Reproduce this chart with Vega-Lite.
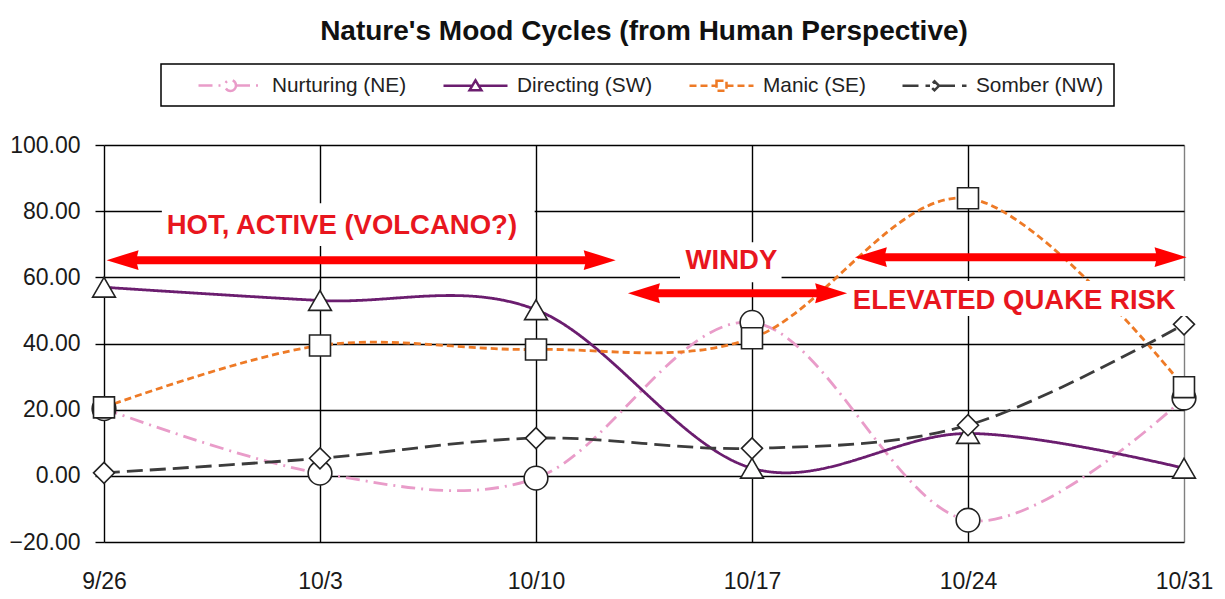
{
  "$schema": "https://vega.github.io/schema/vega-lite/v6.json",
  "width": 1080,
  "height": 397,
  "autosize": {"type": "none"},
  "padding": {"left": 104, "top": 145, "right": 41, "bottom": 57},
  "background": "white",
  "title": {
    "text": "Nature's Mood Cycles (from Human Perspective)",
    "font": "Liberation Sans",
    "fontSize": 28,
    "fontWeight": "bold",
    "color": "#111111",
    "anchor": "middle",
    "offset": 17
  },
  "datasets": {
    "series": [
      {"date": "2010-09-26", "series": "Nurturing (NE)", "value": 20.3},
      {"date": "2010-10-03", "series": "Nurturing (NE)", "value": 0.8},
      {"date": "2010-10-10", "series": "Nurturing (NE)", "value": -0.7},
      {"date": "2010-10-17", "series": "Nurturing (NE)", "value": 46.4},
      {"date": "2010-10-24", "series": "Nurturing (NE)", "value": -13.4},
      {"date": "2010-10-31", "series": "Nurturing (NE)", "value": 23.5},
      {"date": "2010-09-26", "series": "Directing (SW)", "value": 57.0},
      {"date": "2010-10-03", "series": "Directing (SW)", "value": 53.0},
      {"date": "2010-10-10", "series": "Directing (SW)", "value": 50.2},
      {"date": "2010-10-17", "series": "Directing (SW)", "value": 2.3},
      {"date": "2010-10-24", "series": "Directing (SW)", "value": 12.8},
      {"date": "2010-10-31", "series": "Directing (SW)", "value": 2.3},
      {"date": "2010-09-26", "series": "Manic (SE)", "value": 20.7},
      {"date": "2010-10-03", "series": "Manic (SE)", "value": 39.4},
      {"date": "2010-10-10", "series": "Manic (SE)", "value": 38.2},
      {"date": "2010-10-17", "series": "Manic (SE)", "value": 41.6},
      {"date": "2010-10-24", "series": "Manic (SE)", "value": 83.9},
      {"date": "2010-10-31", "series": "Manic (SE)", "value": 26.8},
      {"date": "2010-09-26", "series": "Somber (NW)", "value": 0.9},
      {"date": "2010-10-03", "series": "Somber (NW)", "value": 5.3},
      {"date": "2010-10-10", "series": "Somber (NW)", "value": 11.4},
      {"date": "2010-10-17", "series": "Somber (NW)", "value": 8.3},
      {"date": "2010-10-24", "series": "Somber (NW)", "value": 15.3},
      {"date": "2010-10-31", "series": "Somber (NW)", "value": 45.8}
    ],
    "notes": [
      {"label": "HOT, ACTIVE (VOLCANO?)", "x": "2010-10-03T17:00:00Z", "y": 75.5, "x1": "2010-09-27T21:00:00Z", "x2": "2010-10-09T23:00:00Z", "y1": 69.5, "y2": 82.4},
      {"label": "WINDY", "x": "2010-10-16T08:00:00Z", "y": 64.9, "x1": "2010-10-14T16:00:00Z", "x2": "2010-10-17T23:00:00Z", "y1": 58.5, "y2": 70.6},
      {"label": "ELEVATED QUAKE RISK", "x": "2010-10-25T12:00:00Z", "y": 52.8, "x1": "2010-10-20T00:00:00Z", "x2": "2010-10-31T05:00:00Z", "y1": 48.3, "y2": 58.9}
    ],
    "arrows": [
      {"start": "2010-09-26T02:00:00Z", "end": "2010-10-12T14:00:00Z", "level": 65.2},
      {"start": "2010-10-12T23:30:00Z", "end": "2010-10-20T02:00:00Z", "level": 55.2},
      {"start": "2010-10-20T08:00:00Z", "end": "2010-10-31T02:00:00Z", "level": 66.1}
    ]
  },
  "layer": [
    {
      "data": {"name": "series"},
      "mark": {"type": "line", "interpolate": "cardinal", "strokeWidth": 2.8},
      "encoding": {
        "x": {
          "field": "date", "type": "temporal", "title": null,
          "scale": {"type": "utc", "domain": [{"year": 2010, "month": 9, "date": 26, "utc": true}, {"year": 2010, "month": 10, "date": 31, "utc": true}]},
          "axis": {
            "values": [
              {"year": 2010, "month": 9, "date": 26, "utc": true},
              {"year": 2010, "month": 10, "date": 3, "utc": true},
              {"year": 2010, "month": 10, "date": 10, "utc": true},
              {"year": 2010, "month": 10, "date": 17, "utc": true},
              {"year": 2010, "month": 10, "date": 24, "utc": true},
              {"year": 2010, "month": 10, "date": 31, "utc": true}
            ],
            "format": "%-m/%-d",
            "gridColor": {"condition": {"test": "datum.value >= 1288483200000", "value": "#808080"}, "value": "#000000"}
          }
        },
        "y": {
          "field": "value", "type": "quantitative", "title": null,
          "scale": {"domain": [-20, 100], "nice": false, "zero": false},
          "axis": {"values": [-20, 0, 20, 40, 60, 80, 100], "format": ".2f"}
        },
        "color": {
          "field": "series", "type": "nominal", "title": " ",
          "scale": {"domain": ["Nurturing (NE)", "Directing (SW)", "Manic (SE)", "Somber (NW)"], "range": ["#e99cc9", "#6b1d6f", "#ee7a26", "#3c3c3c"]},
          "legend": {"labelExpr": "datum.label === 'Somber (NW)' ? datum.label + '\u2003' : datum.label"}
        },
        "strokeDash": {
          "field": "series", "type": "nominal", "title": " ",
          "scale": {"domain": ["Nurturing (NE)", "Directing (SW)", "Manic (SE)", "Somber (NW)"], "range": [[14, 6, 2, 6], [1, 0], [7, 4], [16, 7]]},
          "legend": {"labelExpr": "datum.label === 'Somber (NW)' ? datum.label + '\u2003' : datum.label"}
        }
      }
    },
    {
      "data": {"name": "series"},
      "transform": [{"filter": "datum.series === 'Nurturing (NE)'"}],
      "mark": {"type": "point", "shape": "circle", "size": 560, "filled": true, "fill": "white", "stroke": "#222222", "strokeWidth": 1.6, "opacity": 1},
      "encoding": {"x": {"field": "date", "type": "temporal"}, "y": {"field": "value", "type": "quantitative"}}
    },
    {
      "data": {"name": "series"},
      "transform": [{"filter": "datum.series === 'Directing (SW)'"}],
      "mark": {"type": "point", "shape": "triangle-up", "size": 520, "filled": true, "fill": "white", "stroke": "#222222", "strokeWidth": 1.6, "opacity": 1},
      "encoding": {"x": {"field": "date", "type": "temporal"}, "y": {"field": "value", "type": "quantitative"}}
    },
    {
      "data": {"name": "series"},
      "transform": [{"filter": "datum.series === 'Manic (SE)'"}],
      "mark": {"type": "point", "shape": "square", "size": 440, "filled": true, "fill": "white", "stroke": "#222222", "strokeWidth": 1.6, "opacity": 1},
      "encoding": {"x": {"field": "date", "type": "temporal"}, "y": {"field": "value", "type": "quantitative"}}
    },
    {
      "data": {"name": "series"},
      "transform": [{"filter": "datum.series === 'Somber (NW)'"}],
      "mark": {"type": "point", "shape": "diamond", "size": 440, "filled": true, "fill": "white", "stroke": "#222222", "strokeWidth": 1.6, "opacity": 1},
      "encoding": {"x": {"field": "date", "type": "temporal"}, "y": {"field": "value", "type": "quantitative"}}
    },
    {
      "data": {"name": "series"},
      "mark": {"type": "point", "filled": false, "opacity": 0, "strokeWidth": 2.5},
      "encoding": {
        "x": {"field": "date", "type": "temporal"},
        "y": {"field": "value", "type": "quantitative"},
        "color": {"field": "series", "type": "nominal", "title": " "},
        "strokeDash": {"field": "series", "type": "nominal", "title": " "},
        "shape": {
          "field": "series", "type": "nominal", "title": " ",
          "legend": {"labelExpr": "datum.label === 'Somber (NW)' ? datum.label + '\u2003' : datum.label"},
          "scale": {
            "domain": ["Nurturing (NE)", "Directing (SW)", "Manic (SE)", "Somber (NW)"],
            "range": [
              "M-3.2,0H-0.55M0.55,0H3.2M0.55,0A0.55,0.55,0,1,1,-0.55,0A0.55,0.55,0,1,1,0.55,0",
              "M-3.2,0H-0.35M0.35,0H3.2M0,-0.55L0.6,0.45L-0.6,0.45Z",
              "M-3.2,0H-0.5M0.5,0H3.2M-0.5,-0.5H0.5V0.5H-0.5Z",
              "M-3.2,0H-0.45M0.45,0H3.2M0,-0.45L0.45,0L0,0.45L-0.45,0Z"
            ]
          }
        }
      }
    },
    {
      "data": {"name": "notes"},
      "mark": {"type": "rect", "fill": "white", "stroke": null},
      "encoding": {
        "x": {"field": "x1", "type": "temporal"},
        "x2": {"field": "x2"},
        "y": {"field": "y1", "type": "quantitative"},
        "y2": {"field": "y2"}
      }
    },
    {
      "data": {"name": "notes"},
      "mark": {"type": "text", "font": "Liberation Sans", "fontSize": 27.5, "fontWeight": "bold", "color": "#e8161e", "align": "center", "baseline": "middle"},
      "encoding": {
        "x": {"field": "x", "type": "temporal"},
        "y": {"field": "y", "type": "quantitative"},
        "text": {"field": "label"}
      }
    },
    {
      "data": {"name": "arrows"},
      "mark": {"type": "rule", "color": "#ff0000", "strokeWidth": 8, "strokeCap": "butt", "xOffset": 20, "x2Offset": -20},
      "encoding": {
        "x": {"field": "start", "type": "temporal"},
        "x2": {"field": "end"},
        "y": {"field": "level", "type": "quantitative"}
      }
    },
    {
      "data": {"name": "arrows"},
      "mark": {"type": "point", "shape": "M0,0L2,-0.62L1.85,0L2,0.62Z", "size": 1024, "filled": true, "fill": "#ff0000", "strokeWidth": 0, "opacity": 1},
      "encoding": {
        "x": {"field": "start", "type": "temporal"},
        "y": {"field": "level", "type": "quantitative"}
      }
    },
    {
      "data": {"name": "arrows"},
      "mark": {"type": "point", "shape": "M0,0L-2,-0.62L-1.85,0L-2,0.62Z", "size": 1024, "filled": true, "fill": "#ff0000", "strokeWidth": 0, "opacity": 1},
      "encoding": {
        "x": {"field": "end", "type": "temporal"},
        "y": {"field": "level", "type": "quantitative"}
      }
    }
  ],
  "config": {
    "font": "Liberation Sans",
    "view": {"stroke": null},
    "axis": {
      "grid": true,
      "gridColor": "#000000",
      "gridWidth": 1.4,
      "domain": false,
      "labelFont": "Liberation Sans",
      "labelFontSize": 23,
      "labelColor": "#1a1a1a",
      "labelOverlap": false,
      "labelFlush": false,
      "title": null
    },
    "axisX": {"ticks": false, "labelPadding": 28},
    "axisY": {"tickSize": 9, "tickColor": "#000000", "tickWidth": 1.4, "labelPadding": 15},
    "legend": {
      "orient": "none",
      "legendX": 57,
      "legendY": -81,
      "direction": "horizontal",
      "columns": 4,
      "titleOrient": "left",
      "titleFontSize": 20,
      "titlePadding": 28,
      "labelFont": "Liberation Sans",
      "labelFontSize": 20.8,
      "labelColor": "#222222",
      "symbolSize": 400,
      "symbolStrokeWidth": 2.5,
      "symbolOpacity": 1,
      "symbolFillColor": "white",
      "symbolOffset": 20,
      "labelOffset": 30,
      "columnPadding": 31,
      "padding": 10,
      "strokeColor": "#000000",
      "strokeWidth": 1.5
    }
  }
}
